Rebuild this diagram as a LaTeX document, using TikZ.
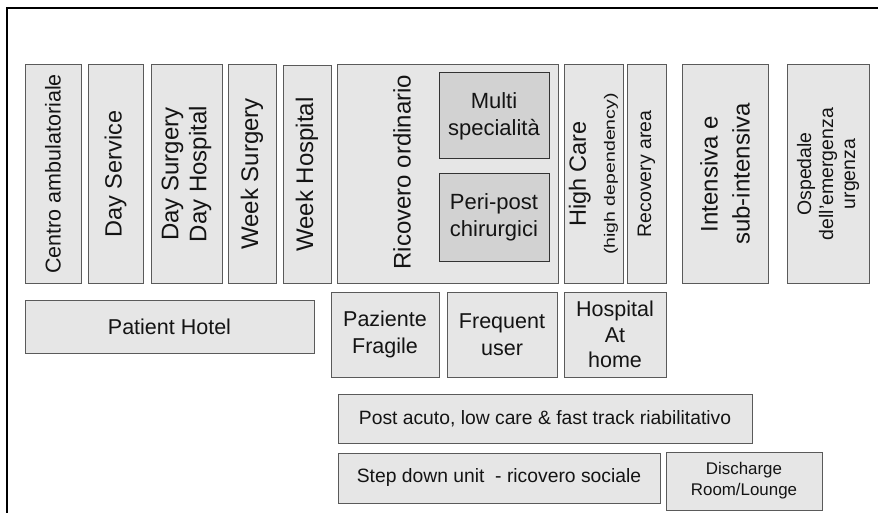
\documentclass[tikz,border=0pt]{standalone}
\usepackage{fontspec}
\setmainfont{Liberation Sans}
\usepackage{graphicx}
\definecolor{boxfill}{HTML}{E6E6E6}
\definecolor{innerfill}{HTML}{D2D2D2}
\definecolor{boxline}{HTML}{5A5A5A}
\definecolor{txt}{HTML}{141414}
\newcommand\fs[2]{\fontsize{#1}{#2}\selectfont}
\begin{document}
\begin{tikzpicture}[x=1pt,y=-1pt,
  box/.style={draw=boxline, line width=1pt, fill=boxfill, inner sep=0pt, align=center, text=txt},
  vbox/.style={box, rotate=90},
  inbox/.style={box, fill=innerfill, draw=black!80},
  lbl/.style={inner sep=0pt, align=center, text=txt}]
\useasboundingbox (0,0) rectangle (878,513);
\fill[white] (0,0) rectangle (878,513);
\draw[line width=2.5pt] (7,513) -- (7,8) -- (878,8);

% top row of vertical boxes
\node[vbox, minimum width=218pt, minimum height=56pt, font=\fs{21.5}{26}] (centro) at (53,174) {Centro ambulatoriale};
\node[vbox, minimum width=218pt, minimum height=55pt, font=\fs{23.5}{28}] (dayservice) at (115.5,174) {Day Service};
\node[vbox, minimum width=218pt, minimum height=71pt, font=\fs{24}{28}] (daysurgery) at (186.5,174) {Day Surgery\\Day Hospital};
\node[vbox, minimum width=218pt, minimum height=48pt, font=\fs{24}{28}] (weeksurgery) at (252,174) {Week Surgery};
\node[vbox, minimum width=217pt, minimum height=48pt, font=\fs{24}{28}] (weekhospital) at (307,174.5) {Week Hospital};
\node[box, minimum width=221pt, minimum height=218pt] (ricovero) at (447.5,174) {};
\node[lbl, rotate=90, font=\fs{24}{28}] (ricoverolbl) at (402,172) {Ricovero ordinario};
\node[inbox, minimum width=110pt, minimum height=86pt, font=\fs{22}{27}] (multi) at (494,116) {Multi\\specialità};
\node[inbox, minimum width=110pt, minimum height=87pt, font=\fs{22}{27}] (peri) at (494,217.5) {Peri-post\\chirurgici};
\node[vbox, minimum width=218pt, minimum height=59pt, font=\fs{23.5}{29}] (highcare) at (593.5,174) {High Care\\\scalebox{1.3}[1]{\fs{15}{18}(high dependency)}};
\node[vbox, minimum width=218pt, minimum height=39pt, font=\fs{19.5}{24}] (recovery) at (646.5,174) {Recovery area};
\node[vbox, minimum width=218pt, minimum height=86pt, font=\fs{24}{32}] (intensiva) at (725,174) {Intensiva e\\sub-intensiva};
\node[vbox, minimum width=218pt, minimum height=82pt, font=\fs{19.5}{22}] (ospedale) at (828,174) {Ospedale\\dell'emergenza\\urgenza};

% middle row
\node[box, minimum width=289pt, minimum height=53pt, font=\fs{21.5}{26}] (hotel) at (169.5,326.5) {Patient Hotel};
\node[box, minimum width=108pt, minimum height=85pt, font=\fs{21.5}{27}] (fragile) at (385,334.5) {Paziente\\Fragile};
\node[box, minimum width=110pt, minimum height=85pt, font=\fs{21.5}{27}] (frequent) at (502,334.5) {Frequent\\user};
\node[box, minimum width=102pt, minimum height=85pt, font=\fs{21.5}{25.5}] (athome) at (615,334.5) {Hospital\\At\\home};

% bottom rows
\node[box, minimum width=414pt, minimum height=49pt, font=\fs{19.3}{24}] (postacuto) at (545,418.5) {Post acuto, low care \& fast track riabilitativo};
\node[box, minimum width=322pt, minimum height=50pt, font=\fs{19.3}{24}] (stepdown) at (499,478) {Step down unit\ \ - ricovero sociale};
\node[box, minimum width=156pt, minimum height=58pt, font=\fs{16.9}{21}] (discharge) at (744,481) {Discharge\\Room/Lounge};
\end{tikzpicture}
\end{document}
